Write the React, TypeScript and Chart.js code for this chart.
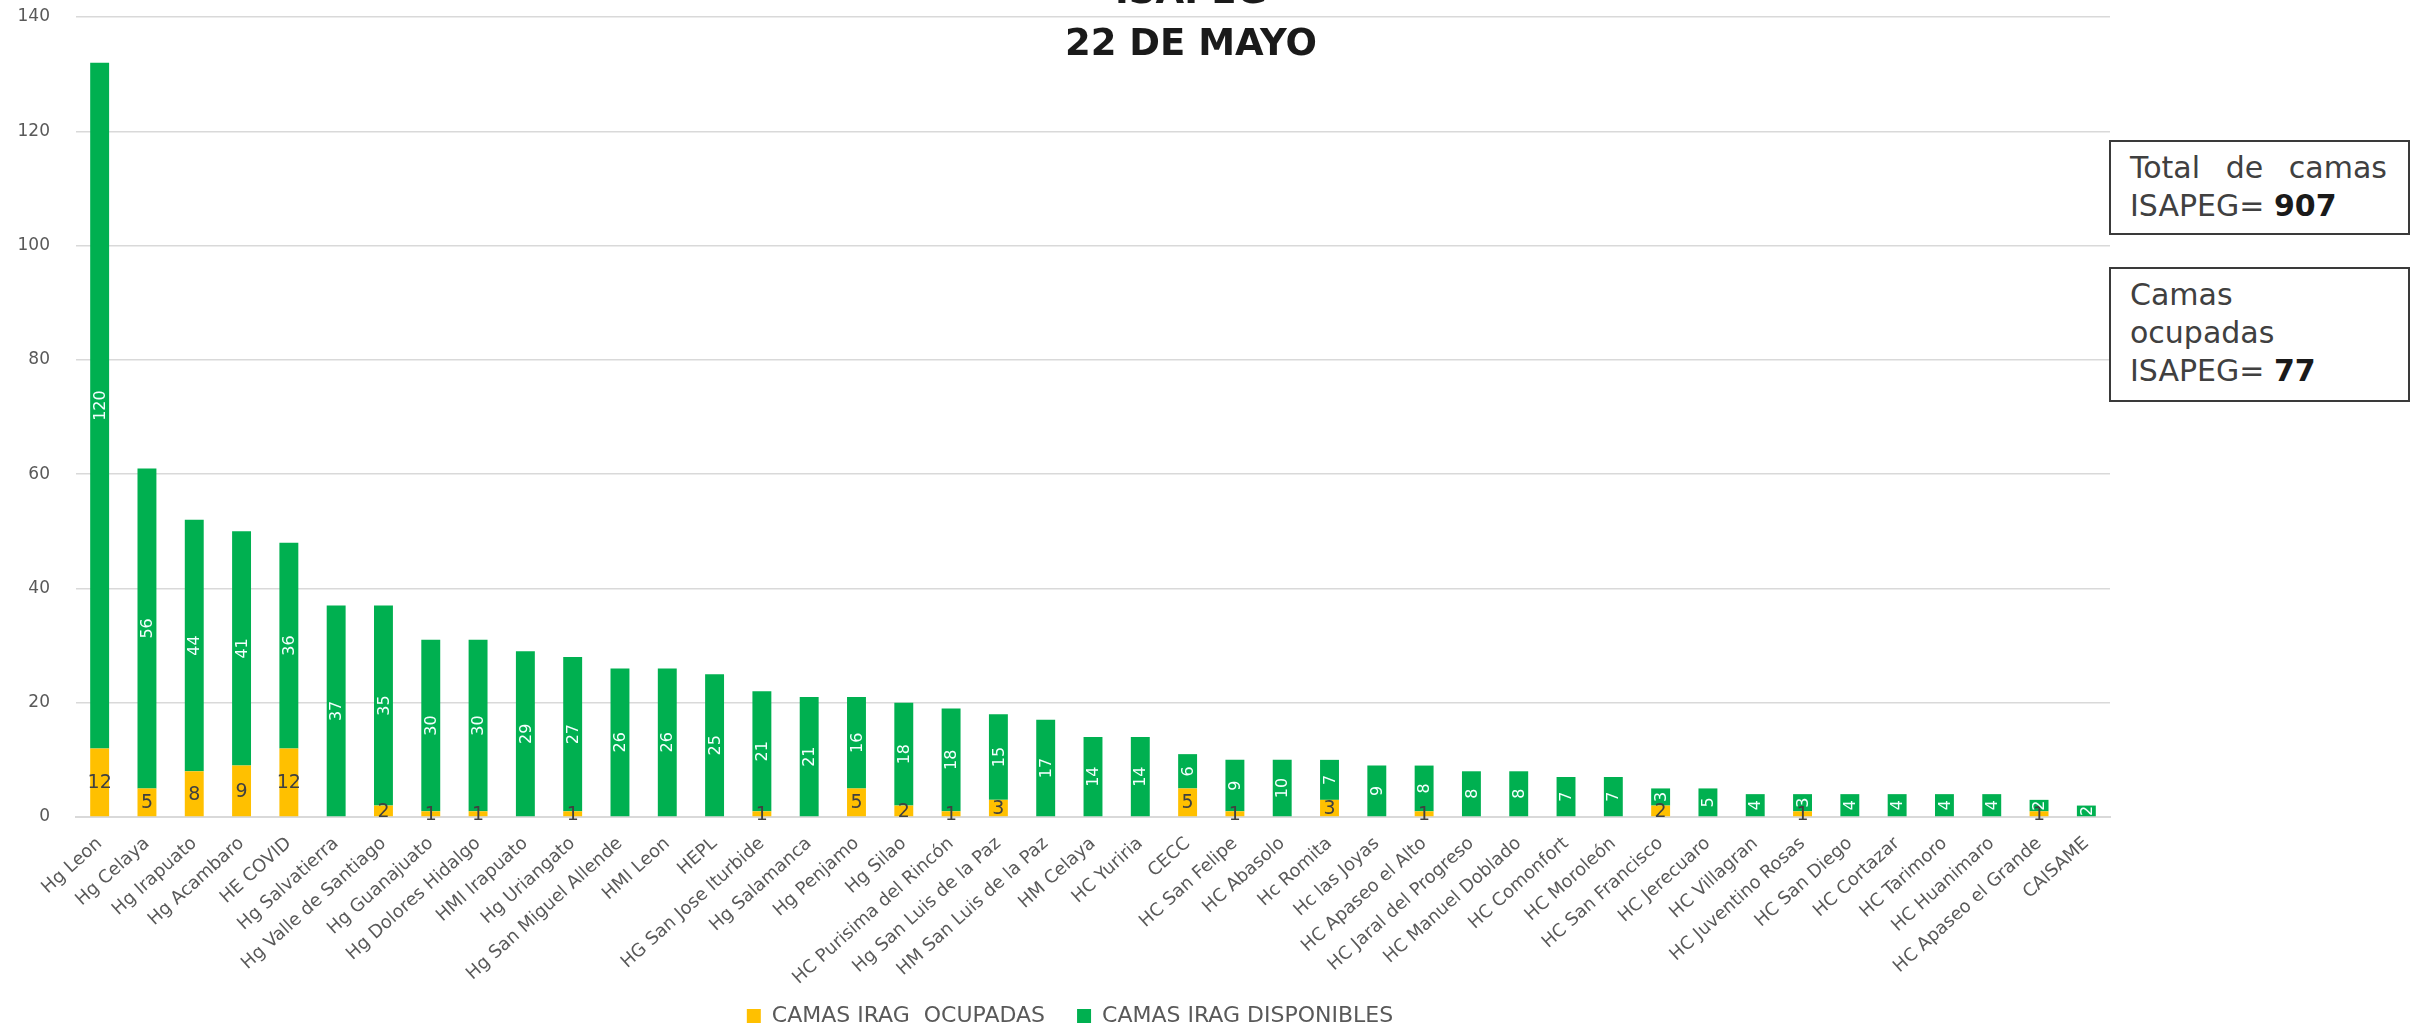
import React, { useEffect, useRef } from "react";
import { Chart, registerables } from "chart.js";

Chart.register(...registerables);

const categories = [
  "Hg Leon", "Hg Celaya", "Hg Irapuato", "Hg Acambaro", "HE COVID", "Hg Salvatierra",
  "Hg Valle de Santiago", "Hg Guanajuato", "Hg Dolores Hidalgo", "HMI Irapuato", "Hg Uriangato",
  "Hg San Miguel Allende", "HMI Leon", "HEPL", "HG San Jose Iturbide", "Hg Salamanca",
  "Hg Penjamo", "Hg Silao", "HC Purisima del Rincón", "Hg San Luis de la Paz",
  "HM San Luis de la Paz", "HM Celaya", "HC Yuriria", "CECC", "HC San Felipe", "HC Abasolo",
  "Hc Romita", "Hc las Joyas", "HC Apaseo el Alto", "HC Jaral del Progreso", "HC Manuel Doblado",
  "HC Comonfort", "HC Moroleón", "HC San Francisco", "HC Jerecuaro", "HC Villagran",
  "HC Juventino Rosas", "HC San Diego", "HC Cortazar", "HC Tarimoro", "HC Huanimaro",
  "HC Apaseo el Grande", "CAISAME",
];

const occupied = [
  12, 5, 8, 9, 12, 0, 2, 1, 1, 0, 1, 0, 0, 0, 1, 0, 5, 2, 1, 3, 0, 0, 0, 5, 1, 0, 3, 0, 1, 0, 0,
  0, 0, 2, 0, 0, 1, 0, 0, 0, 0, 1, 0,
];

const available = [
  120, 56, 44, 41, 36, 37, 35, 30, 30, 29, 27, 26, 26, 25, 21, 21, 16, 18, 18, 15, 17, 14, 14, 6,
  9, 10, 7, 9, 8, 8, 8, 7, 7, 3, 5, 4, 3, 4, 4, 4, 4, 2, 2,
];

const seriesNames = ["CAMAS IRAG  OCUPADAS", "CAMAS IRAG DISPONIBLES"];
const seriesColors = ["#FFC000", "#00B050"];

const yMin = 0;
const yMax = 140;
const yStep = 20;

const titleTop = "ISAPEG";
const titleMain = "22 DE MAYO";
const totalBeds = 907;
const occupiedBeds = 77;

const FONT = "'DejaVu Sans', 'Open Sans', sans-serif";

const barLabelsPlugin = {
  id: "barLabels",
  afterDatasetsDraw(chart: any) {
    const ctx = chart.ctx;
    chart.data.datasets.forEach((ds: any, di: number) => {
      const meta = chart.getDatasetMeta(di);
      meta.data.forEach((bar: any, i: number) => {
        const v = ds.data[i];
        if (!v) return;
        const p = bar.getProps(["x", "y", "base"], true);
        const cy = (p.y + p.base) / 2;
        ctx.save();
        ctx.textAlign = "center";
        ctx.textBaseline = "middle";
        if (di === 0) {
          ctx.font = `19px ${FONT}`;
          ctx.fillStyle = "#404040";
          ctx.fillText(String(v), p.x, cy + 1);
        } else {
          ctx.translate(p.x, cy);
          ctx.rotate(-Math.PI / 2);
          ctx.font = `16px ${FONT}`;
          ctx.fillStyle = "#F4FFFF";
          ctx.fillText(String(v), 0, 1);
        }
        ctx.restore();
      });
    });
  },
};

// nudges the bottom legend to the right and lets the long rotated
// category labels run below the x-axis box without being clipped
const layoutTweaksPlugin = {
  id: "layoutTweaks",
  afterLayout(chart: any) {
    if (chart.legend) {
      chart.legend.left += 30;
    }
    const xs = chart.scales.x;
    if (xs) {
      xs.bottom = chart.height;
    }
  },
};

export default function App() {
  const ref = useRef<HTMLCanvasElement>(null);

  useEffect(() => {
    document.body.style.margin = "0";
    const chart = new Chart(ref.current as HTMLCanvasElement, {
      type: "bar",
      data: {
        labels: categories,
        datasets: [
          {
            label: seriesNames[0],
            data: occupied,
            backgroundColor: seriesColors[0],
            borderWidth: 0,
            barPercentage: 0.4,
            categoryPercentage: 1,
          },
          {
            label: seriesNames[1],
            data: available,
            backgroundColor: seriesColors[1],
            borderWidth: 0,
            barPercentage: 0.4,
            categoryPercentage: 1,
          },
        ],
      },
      options: {
        responsive: false,
        animation: false,
        layout: { padding: { left: 0, right: 308, top: 17, bottom: -10 } },
        plugins: {
          title: { display: false },
          tooltip: { enabled: false },
          legend: {
            display: true,
            position: "bottom",
            labels: {
              boxWidth: 14,
              boxHeight: 14,
              padding: 32,
              color: "#595959",
              font: { family: FONT, size: 22 },
            },
          },
        },
        scales: {
          x: {
            stacked: true,
            grid: { display: false, drawTicks: false },
            border: { display: true, color: "#D9D9D9", width: 2 },
            ticks: {
              autoSkip: false,
              minRotation: 42,
              maxRotation: 42,
              padding: 16,
              color: "#595959",
              font: { family: FONT, size: 18 },
            },
            afterFit: (scale: any) => {
              scale.height = 156;
              scale.paddingLeft = 0;
              scale.paddingRight = 0;
            },
          },
          y: {
            stacked: true,
            min: yMin,
            max: yMax,
            grid: { color: "#D9D9D9", lineWidth: 1.5, drawTicks: false },
            border: { display: false },
            ticks: {
              stepSize: yStep,
              padding: 26,
              color: "#595959",
              font: { family: FONT, size: 17 },
            },
            afterFit: (scale: any) => {
              scale.width = 76;
              scale.paddingTop = 0;
              scale.paddingBottom = 0;
            },
          },
        },
      },
      plugins: [barLabelsPlugin, layoutTweaksPlugin],
    });
    return () => chart.destroy();
  }, []);

  const boxStyle: React.CSSProperties = {
    position: "absolute",
    left: 2109,
    width: 301,
    boxSizing: "border-box",
    border: "2px solid #3a3a3a",
    background: "#fff",
    padding: "6.6px 21px 0 19px",
    fontFamily: FONT,
    fontSize: 30,
    lineHeight: "38px",
    color: "#404040",
  };

  const titleStyle: React.CSSProperties = {
    position: "absolute",
    left: 0,
    width: 2382,
    textAlign: "center",
    fontFamily: FONT,
    fontWeight: "bold",
    fontSize: 37,
    lineHeight: "37px",
    color: "#1a1a1a",
  };

  return (
    <div
      style={{
        position: "absolute",
        left: 0,
        top: 0,
        width: 2418,
        height: 1027,
        overflow: "hidden",
        background: "#ffffff",
      }}
    >
      <canvas
        ref={ref}
        width={2418}
        height={1027}
        style={{ position: "absolute", left: 0, top: 0, width: 2418, height: 1027 }}
      />
      <div style={{ ...titleStyle, top: -28.3 }}>{titleTop}</div>
      <div style={{ ...titleStyle, top: 23.5 }}>{titleMain}</div>
      <div style={{ ...boxStyle, top: 140, height: 95 }}>
        <div style={{ display: "flex", justifyContent: "space-between" }}>
          <span>Total</span>
          <span>de</span>
          <span>camas</span>
        </div>
        <div>
          ISAPEG= <b style={{ color: "#1a1a1a" }}>{totalBeds}</b>
        </div>
      </div>
      <div style={{ ...boxStyle, top: 267, height: 135 }}>
        <div>Camas</div>
        <div>ocupadas</div>
        <div>
          ISAPEG= <b style={{ color: "#1a1a1a" }}>{occupiedBeds}</b>
        </div>
      </div>
    </div>
  );
}
